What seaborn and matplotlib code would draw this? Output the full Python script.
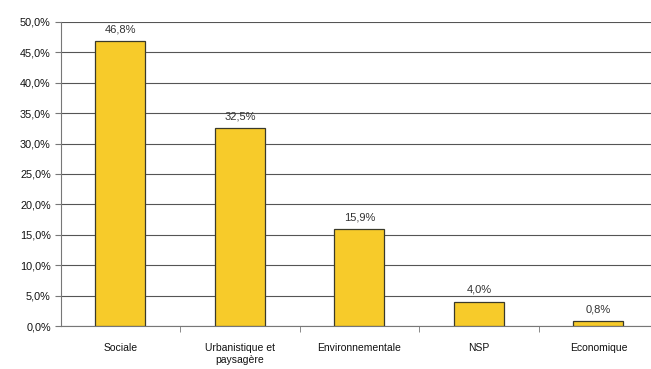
import matplotlib.pyplot as plt
import seaborn as sns
import pandas as pd
from matplotlib.ticker import FixedLocator, FuncFormatter

# chart data
categories = ['Sociale', 'Urbanistique et\npaysagère', 'Environnementale', 'NSP', 'Economique']
values = [46.8, 32.5, 15.9, 4.0, 0.8]
labels = ['46,8%', '32,5%', '15,9%', '4,0%', '0,8%']
y_ticks = [0, 5, 10, 15, 20, 25, 30, 35, 40, 45, 50]

df = pd.DataFrame({'cat': categories, 'val': values})

sns.set_style('white')
plt.rcParams['font.family'] = ['Liberation Sans', 'DejaVu Sans']

fig = plt.figure(figsize=(6.51, 3.69), dpi=100)
ax = fig.add_axes([0.093, 0.1165, 0.918, 0.824])

sns.barplot(data=df, x='cat', y='val', color='#F7CB2A', edgecolor='#3a3a2a',
            linewidth=0.9, width=0.42, saturation=1, ax=ax, zorder=3)

# value labels above bars
for i, (v, t) in enumerate(zip(values, labels)):
    ax.text(i, v + 1.1, t, ha='center', va='bottom', fontsize=8, color='#333333')

ax.set_xlim(-0.5, 4.5)
ax.set_ylim(0, 50)
ax.yaxis.set_major_locator(FixedLocator(y_ticks))
ax.yaxis.set_major_formatter(FuncFormatter(lambda v, p: f'{v:.1f}'.replace('.', ',') + '%'))
ax.grid(axis='y', color='#555555', linewidth=0.8, zorder=0)
ax.set_axisbelow(True)

for s in ['top', 'right']:
    ax.spines[s].set_visible(False)
ax.spines['left'].set_color('#777777')
ax.spines['bottom'].set_color('#777777')

ax.set_xlabel('')
ax.set_ylabel('')
ax.tick_params(axis='y', left=True, length=4, color='#777777', labelsize=7.8, labelcolor='#111111', pad=3)
ax.tick_params(axis='x', bottom=False, labelsize=7.5, labelcolor='#111111', pad=9)
ax.xaxis.set_minor_locator(FixedLocator([0.5, 1.5, 2.5, 3.5]))
ax.tick_params(axis='x', which='minor', bottom=True, length=4, color='#777777')

fig.savefig('out.png', dpi=100)
